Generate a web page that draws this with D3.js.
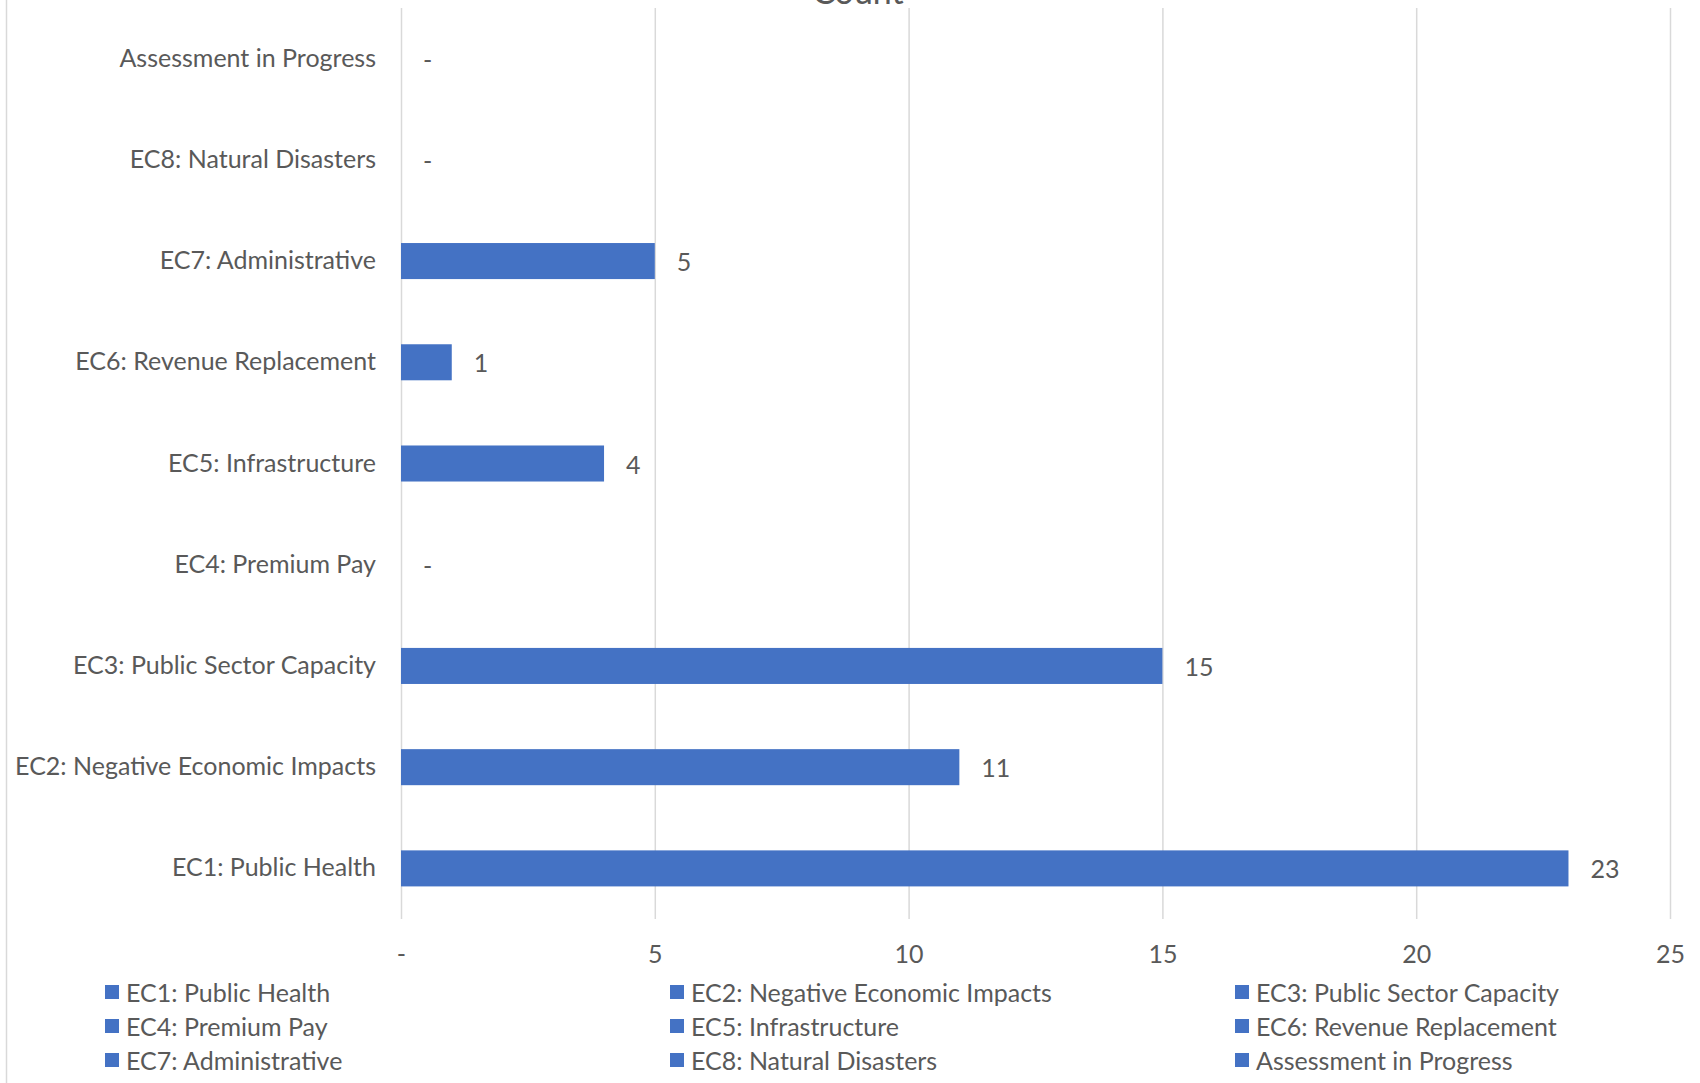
<!DOCTYPE html>
<html><head><meta charset="utf-8">
<script src="https://cdn.jsdelivr.net/npm/d3@7"></script>
<style>
html,body{margin:0;padding:0;background:#fff;}
svg{display:block;font-family:Lato,"Open Sans",sans-serif;}
</style></head>
<body>
<svg id="chart" width="1700" height="1083"></svg>
<script>
const categories = ["EC1: Public Health","EC2: Negative Economic Impacts","EC3: Public Sector Capacity","EC4: Premium Pay","EC5: Infrastructure","EC6: Revenue Replacement","EC7: Administrative","EC8: Natural Disasters","Assessment in Progress"];
const values = [23, 11, 15, 0, 4, 1, 5, 0, 0];
const xTicks = [0, 5, 10, 15, 20, 25];
const xTickLabels = ["-", "5", "10", "15", "20", "25"];
const title = "Count";

const svg = d3.select("#chart");
const textColor = "#595959", gridColor = "#d9d9d9", barColor = "#4472C4";
const fs = 25;

const x = d3.scaleLinear().domain([0, 25]).range([401, 1670]);
const y = d3.scaleBand().domain(categories.slice().reverse()).range([8, 919])
  .paddingInner(0.644).paddingOuter(0.322);

// chart border (left edge visible)
svg.append("line").attr("x1", 6.5).attr("x2", 6.5).attr("y1", 0).attr("y2", 1083)
  .attr("stroke", gridColor).attr("stroke-width", 1.5);

// title (cropped at top, as in the original)
svg.append("text").attr("x", 858).attr("y", 4).attr("text-anchor", "middle")
  .attr("font-size", 34).attr("fill", textColor).text(title);

// gridlines + axis
const gx = svg.append("g").attr("transform", "translate(0,919)")
  .call(d3.axisBottom(x).tickValues(xTicks).tickSize(-911).tickPadding(26)
    .tickFormat((d, i) => xTickLabels[i]));
gx.select(".domain").remove();
gx.selectAll(".tick line").attr("stroke", gridColor).attr("stroke-width", 1.5);
gx.selectAll(".tick text").attr("fill", textColor).attr("font-size", fs)
  .attr("font-family", "Lato, 'Open Sans', sans-serif");

// category labels
const gy = svg.append("g").attr("transform", "translate(376,0)")
  .call(d3.axisLeft(y).tickSize(0).tickPadding(0));
gy.select(".domain").remove();
gy.selectAll(".tick text").attr("fill", textColor).attr("font-size", fs)
  .attr("font-family", "Lato, 'Open Sans', sans-serif");

// bars
const data = categories.map((c, i) => ({c, v: values[i]}));
svg.append("g").selectAll("rect").data(data).join("rect")
  .attr("x", x(0)).attr("y", d => y(d.c))
  .attr("width", d => x(d.v) - x(0)).attr("height", y.bandwidth())
  .attr("fill", barColor);

// data labels
svg.append("g").selectAll("text").data(data).join("text")
  .attr("x", d => x(d.v) + 22).attr("y", d => y(d.c) + y.bandwidth() / 2)
  .attr("dy", "0.4em").attr("font-size", fs).attr("fill", textColor)
  .text(d => d.v === 0 ? "-" : d.v);

// legend
const leg = svg.append("g").selectAll("g").data(categories).join("g")
  .attr("transform", (d, i) => `translate(${105 + (i % 3) * 565},${992 + Math.floor(i / 3) * 34})`);
leg.append("rect").attr("x", 0).attr("y", -7).attr("width", 14).attr("height", 14).attr("fill", barColor);
leg.append("text").attr("x", 21).attr("y", 0).attr("dy", "0.38em")
  .attr("font-size", fs).attr("fill", textColor).text(d => d);
</script>
</body></html>
